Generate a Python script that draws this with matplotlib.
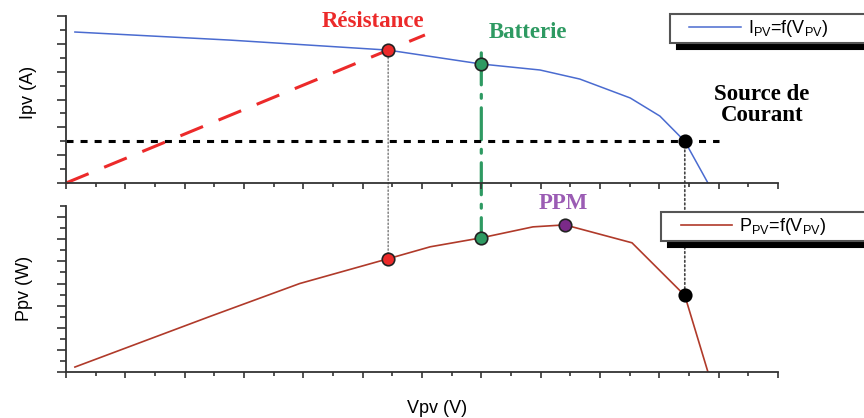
import matplotlib
matplotlib.use('Agg')
from matplotlib import pyplot as plt
from matplotlib.lines import Line2D
from matplotlib.legend_handler import HandlerLine2D
from matplotlib.patches import ConnectionPatch
from matplotlib.ticker import MultipleLocator

# I-V curve
vpv_iv = [0.15, 2.76, 5.43, 7.0, 7.99, 8.66, 9.51, 10.01, 10.43, 10.82]
ipv = [10.85, 10.27, 9.55, 8.55, 8.12, 7.47, 6.11, 4.81, 3.0, 0.0]

# P-V curve
vpv_pv = [0.15, 2.43, 3.94, 5.43, 6.14, 7.0, 7.87, 8.41, 9.54, 10.43, 10.82]
ppv = [0.45, 5.03, 8.0, 10.24, 11.32, 12.13, 13.12, 13.30, 11.68, 6.92, 0.0]

# operating points
res_v, res_i, res_p = 5.43, 9.55, 10.24
bat_v, bat_i, bat_p = 7.0, 8.55, 12.13
ppm_v, ppm_p = 8.41, 13.30
src_v, src_i, src_p = 10.43, 3.0, 6.92

# load lines
res_line_v = [0, 6.05]
res_line_i = [0, 10.64]
src_line_v = [0, 11.0]
src_line_i = [3.0, 3.0]
bat_top_i = 9.35

BLUE = '#4a6bd0'
BROWN = '#b03a2a'
RED = '#ec2a2a'
GREEN = '#2e9a62'
PURPLE = '#7b2a88'

plt.rcParams['font.family'] = ['Liberation Sans', 'DejaVu Sans']
plt.rcParams['mathtext.fontset'] = 'custom'
plt.rcParams['mathtext.rm'] = 'Liberation Sans'
plt.rcParams['mathtext.it'] = 'Liberation Sans:italic'
plt.rcParams['mathtext.bf'] = 'Liberation Sans:bold'

serif = dict(family=['Liberation Serif', 'DejaVu Serif'], fontweight='bold',
             fontsize=16.5, ha='center', va='center', clip_on=False)


def style_axes(ax, ymax):
    ax.set_xlim(0, 12)
    ax.set_ylim(0, ymax)
    ax.patch.set_alpha(0)
    ax.set_zorder(1)
    for side in ['top', 'right']:
        ax.spines[side].set_visible(False)
    for side in ['left', 'bottom']:
        ax.spines[side].set_color('#333333')
        ax.spines[side].set_linewidth(1.3)
    ax.xaxis.set_major_locator(MultipleLocator(1))
    ax.xaxis.set_minor_locator(MultipleLocator(0.5))
    ax.yaxis.set_major_locator(MultipleLocator(2))
    ax.yaxis.set_minor_locator(MultipleLocator(1))
    ax.tick_params(which='both', direction='out', color='#333333', width=1.2,
                   labelbottom=False, labelleft=False)
    ax.tick_params(axis='x', which='major', length=4.3)
    ax.tick_params(axis='x', which='minor', length=2.8)
    ax.tick_params(axis='y', which='major', length=6.5)
    ax.tick_params(axis='y', which='minor', length=4.5)


def add_legend(ax, x, y):
    leg = ax.legend(loc='upper left', bbox_to_anchor=(x, y - 0.5, 0.35, 0.5),
                    mode='expand', borderaxespad=0, borderpad=0.22,
                    handlelength=3.7, handletextpad=0.4, fontsize=13,
                    fancybox=False, framealpha=1,
                    shadow={'ox': 5, 'oy': -4.3, 'color': 'black', 'alpha': 1},
                    handler_map={Line2D: HandlerLine2D(xpad=0.85)})
    leg.get_frame().set_edgecolor('#555555')
    leg.get_frame().set_linewidth(1.5)


fig = plt.figure(figsize=(8.64, 4.18), dpi=100)
ax1 = fig.add_axes([0.0764, 0.5622, 0.824, 0.3995])
ax2 = fig.add_axes([0.0764, 0.110, 0.824, 0.397])
style_axes(ax1, 12)
style_axes(ax2, 15)

# top: current vs voltage
ax1.plot(vpv_iv, ipv, color=BLUE, lw=1.1, label=r'I$_{\rm PV}$=f(V$_{\rm PV}$)')
ax1.plot(res_line_v, res_line_i, color=RED, lw=2.2, linestyle=(0, (8, 5.5)),
         clip_on=False)
ax1.plot(src_line_v, src_line_i, color='black', lw=2.2, linestyle=(0, (2.3, 2.3)),
         clip_on=False)
ax1.plot(res_v, res_i, 'o', ms=9, mfc=RED, mec='#222222', mew=1.2, zorder=5)
ax1.plot(bat_v, bat_i, 'o', ms=9, mfc=GREEN, mec='#222222', mew=1.2, zorder=5)
ax1.plot(src_v, src_i, 'o', ms=9, mfc='black', mec='black', mew=1.2, zorder=5,
         clip_on=False)

ax1.text(5.17, 11.64, 'Résistance', color=RED, **serif)
ax1.text(7.78, 10.85, 'Batterie', color=GREEN, **serif)
ax1.text(11.73, 5.6, 'Source de\nCourant', color='black', linespacing=1.0,
         **serif)

ax1.set_ylabel('Ipv (A)', fontsize=13)
ax1.yaxis.set_label_coords(-0.041, 0.54)
add_legend(ax1, 0.848, 1.012)

# bottom: power vs voltage
ax2.plot(vpv_pv, ppv, color=BROWN, lw=1.2, label=r'P$_{\rm PV}$=f(V$_{\rm PV}$)')
ax2.plot(res_v, res_p, 'o', ms=9, mfc=RED, mec='#222222', mew=1.2, zorder=5)
ax2.plot(bat_v, bat_p, 'o', ms=9, mfc=GREEN, mec='#222222', mew=1.2, zorder=5)
ax2.plot(ppm_v, ppm_p, 'o', ms=9, mfc=PURPLE, mec='#222222', mew=1.2, zorder=5)
ax2.plot(src_v, src_p, 'o', ms=9, mfc='black', mec='black', mew=1.2, zorder=5)
ax2.text(8.38, 15.27, 'PPM', color='#9b5cb4', **serif)

ax2.set_ylabel('Ppv (W)', fontsize=13)
ax2.yaxis.set_label_coords(-0.046, 0.506)
ax2.set_xlabel('Vpv (V)', fontsize=13, va='top')
ax2.xaxis.set_label_coords(0.521, -0.169)
add_legend(ax2, 0.836, 0.964)

# links between the two plots
links = [
    ((res_v, res_i), (res_v, res_p), '#777777', 1.0, ':'),
    ((src_v, src_i), (src_v, src_p), '#444444', 1.2, ':'),
    ((bat_v, bat_top_i), (bat_v, bat_p), GREEN, 2.3, (0, (10, 3, 1.2, 3))),
]
for pa, pb, c, lw, ls in links:
    con = ConnectionPatch(xyA=pa, coordsA=ax1.transData, xyB=pb,
                          coordsB=ax2.transData, color=c, lw=lw, linestyle=ls,
                          zorder=0.5)
    fig.add_artist(con)

fig.savefig('out.png', dpi=100)
